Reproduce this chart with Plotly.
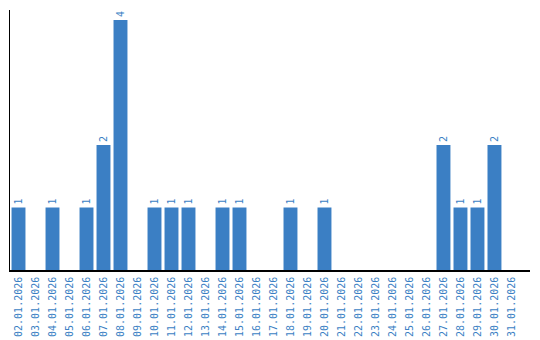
import plotly.graph_objects as go

dates = [f"{d:02d}.01.2026" for d in range(2, 32)]
counts = [1, 0, 1, 0, 1, 2, 4, 0, 1, 1, 1, 0, 1, 1, 0, 0, 1, 0, 1, 0, 0, 0, 0, 0, 0, 2, 1, 1, 2, 0]

color = "#3b7fc4"
labels = [str(v) if v > 0 else "" for v in counts]

fig = go.Figure(go.Bar(
    x=dates, y=counts, marker_color=color, marker_line_width=0,
    text=labels, textposition="outside", textangle=-90,
    textfont=dict(family="DejaVu Sans Mono", size=10, color=color),
    cliponaxis=False,
))
fig.update_layout(
    width=540, height=340, margin=dict(l=10, r=10, t=10, b=70),
    paper_bgcolor="white", plot_bgcolor="white", bargap=0.18,
    showlegend=False,
)
fig.update_xaxes(type="category", range=[-0.5, 30.09], showline=True, linecolor="black", linewidth=1.5,
                 tickangle=-90, tickfont=dict(family="DejaVu Sans Mono", size=10, color=color),
                 showgrid=False, ticks="", ticklabelstandoff=1, automargin=False)
fig.update_yaxes(range=[0, 4.16], showline=True, linecolor="black", linewidth=1, showticklabels=False,
                 showgrid=False, zeroline=False, ticks="", automargin=False)
fig.write_html("out.html")
